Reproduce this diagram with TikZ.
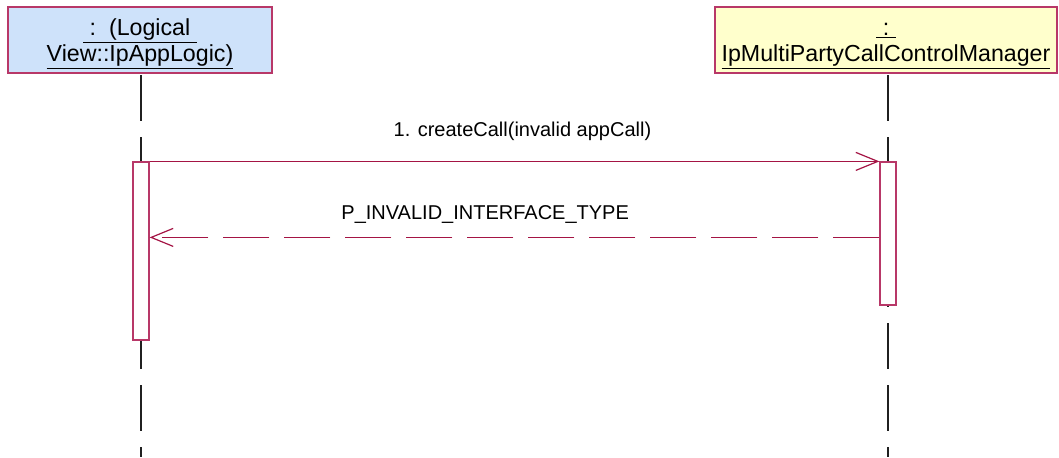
\documentclass[tikz,border=0pt]{standalone}
\usepackage{fontspec}
\setmainfont{Liberation Sans}
\usetikzlibrary{arrows.meta,positioning,calc}

\begin{document}
\begin{tikzpicture}[x=0.75pt,y=-0.75pt,
  every node/.style={font=\fontsize{15}{20}\selectfont},
  objbox/.style={draw=BORDER,line width=0.9pt,minimum height=49.5pt,inner sep=0pt,align=center,font=\fontsize{17.4}{20}\selectfont},
  actbar/.style={draw=BORDER,fill=white,line width=0.9pt,minimum width=12pt,inner sep=0pt},
  lifeline/.style={draw=LIFE,line width=0.8pt,dash pattern=on 34.5pt off 12pt},
  callmsg/.style={draw=MSG,line width=0.8pt,-{Straight Barb[length=16.5pt,width=13.5pt,line width=0.9pt]}},
  replymsg/.style={callmsg,dash pattern=on 34.5pt off 11.25pt}]
\definecolor{APPFILL}{RGB}{206,226,250}
\definecolor{MGRFILL}{RGB}{255,255,204}
\definecolor{BORDER}{RGB}{184,56,104}
\definecolor{MSG}{RGB}{164,20,68}
\definecolor{LIFE}{RGB}{32,32,32}
\useasboundingbox (0,0) rectangle (1059,457);
\node[objbox,fill=APPFILL,minimum width=198pt] (appObj) at (140,40) {\rule{0pt}{18.5pt}\underline{\ :\ \ (Logical\ }\\\underline{View::IpAppLogic)}};
\node[objbox,fill=MGRFILL,minimum width=256.5pt] (mgrObj) at (886,40) {\rule{0pt}{18.5pt}\underline{\ :\ }\\\underline{IpMultiPartyCallControlManager}};
\coordinate (appLine) at (141,75);
\coordinate (mgrLine) at (888,75);
\draw[lifeline] (appLine) -- ++(0,382);
\draw[lifeline] (mgrLine) -- ++(0,382);
\node[actbar,minimum height=133.5pt] (appAct) at (141,251) {};
\node[actbar,minimum height=107.25pt] (mgrAct) at (888,233.5) {};
\draw[callmsg] (appAct.north east) -- (mgrAct.north west) node[midway,anchor=base,yshift=18.75pt,xshift=6pt,text=black] (callLbl) {1. createCall(invalid appCall)};
\draw[replymsg] ($(mgrAct.north west)+(0,76)$) -- ($(appAct.north east)+(0,76)$) node[midway,anchor=base,yshift=13.5pt,xshift=-22pt,text=black] (replyLbl) {P\_INVALID\_INTERFACE\_TYPE};
\end{tikzpicture}
\end{document}
